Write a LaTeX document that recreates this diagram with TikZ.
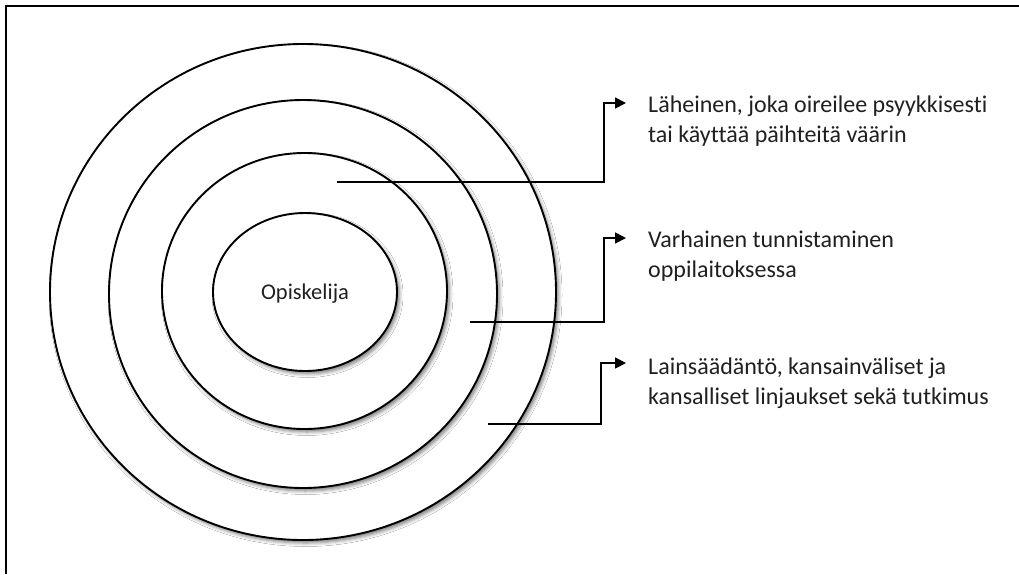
\documentclass[tikz,border=0pt]{standalone}
\usepackage{fontspec}
\setmainfont{Carlito}[Ligatures=NoCommon]
\usetikzlibrary{arrows.meta,shapes.geometric,shadows.blur}
\definecolor{txt}{HTML}{202020}
\tikzset{
  ring/.style={ellipse, draw=black, line width=1.9pt, fill=white, inner sep=0pt,
    blur shadow={shadow xshift=2.5pt, shadow yshift=-3pt, shadow blur radius=3.5pt, shadow opacity=50}},
  conn/.style={draw=black, line width=1.7pt, -{Triangle[length=11pt,width=11pt]}},
  label/.style={anchor=base west, align=left, inner sep=0pt, text=txt,
    font=\fontsize{24}{30}\selectfont},
}
\begin{document}
\begin{tikzpicture}[x=1pt,y=-1pt]
\useasboundingbox (0,0) rectangle (1019,574);
\fill[white] (0,0) rectangle (1019,574);
\draw[line width=2pt] (6,574) -- (6,6) -- (1019,6);
\node[ring, minimum width=506pt, minimum height=496pt] (r4) at (303,292) {};
\node[ring, minimum width=388pt, minimum height=388pt] (r3) at (303,294) {};
\node[ring, minimum width=285pt, minimum height=276pt] (r2) at (304.5,291) {};
\node[ring, minimum width=184pt, minimum height=158pt] (r1) at (305,292) {};
\node[anchor=base, inner sep=0pt, text=txt, font=\fontsize{22.5}{30}\selectfont] (stud) at (305,299) {Opiskelija};
\coordinate (s1) at (337,182);
\coordinate (b1) at (604,103);
\coordinate (e1) at (626,103);
\coordinate (s2) at (470,322);
\coordinate (b2) at (604,238);
\coordinate (e2) at (626,238);
\coordinate (s3) at (488,424);
\coordinate (b3) at (601,363);
\coordinate (e3) at (626,363);
\draw[conn] (s1) -| (b1) -- (e1);
\draw[conn] (s2) -| (b2) -- (e2);
\draw[conn] (s3) -| (b3) -- (e3);
\node[label] (t1) at (648,142) {Läheinen, joka oireilee psyykkisesti\\tai käyttää päihteitä väärin};
\node[label] (t2) at (648,277) {Varhainen tunnistaminen\\oppilaitoksessa};
\node[label] (t3) at (648,404) {Lainsäädäntö, kansainväliset ja\\kansalliset linjaukset sekä tutkimus};
\end{tikzpicture}
\end{document}
